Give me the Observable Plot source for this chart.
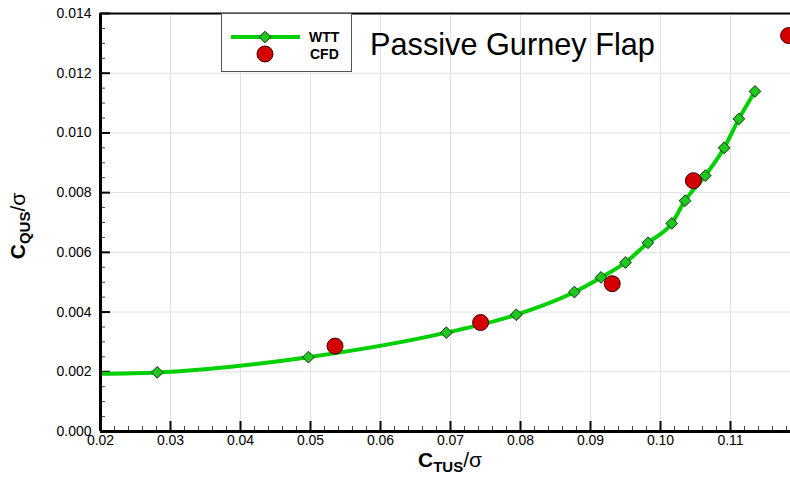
<!DOCTYPE html>
<html><head><meta charset="utf-8">
<script src="https://cdn.jsdelivr.net/npm/d3@7"></script>
<script src="https://cdn.jsdelivr.net/npm/@observablehq/plot@0.6"></script>
<style>
html,body{margin:0;padding:0;overflow:hidden;background:#fff;}
#chart{width:790px;height:479px;overflow:hidden;}
</style>
</head><body><div id="chart"></div>
<script>
// WTT measurements (first point lies just left of the plotted range)
const wttX = [0.0185, 0.0281, 0.0497, 0.0694, 0.0794, 0.0877, 0.0915, 0.0950, 0.0982, 0.1016, 0.1035, 0.1064, 0.1091, 0.1112, 0.1135];
const wttY = [0.00193, 0.00198, 0.00249, 0.00331, 0.00391, 0.00467, 0.00516, 0.00566, 0.00632, 0.00697, 0.00773, 0.00857, 0.00950, 0.01047, 0.01139];
// CFD results
const cfdX = [0.0535, 0.0743, 0.0931, 0.1047, 0.1183];
const cfdY = [0.00286, 0.00365, 0.00495, 0.00840, 0.01326];
// ticks
const xTicks = [0.02, 0.03, 0.04, 0.05, 0.06, 0.07, 0.08, 0.09, 0.10, 0.11];
const yTicks = [0, 0.002, 0.004, 0.006, 0.008, 0.010, 0.012, 0.014];
const xMinor = d3.range(0, 50).map(i => 0.02 + i * 0.002).filter(v => Math.abs(v * 100 - Math.round(v * 100)) > 1e-6 && v < 0.12);
const yMinor = d3.range(0, 29).map(i => i * 0.0005).filter(v => Math.abs(v * 500 - Math.round(v * 500)) > 1e-6);

const wtt = wttX.map((x, i) => ({x, y: wttY[i]}));
const cfd = cfdX.map((x, i) => ({x, y: cfdY[i]}));

const W = 790, H = 479, mL = 100, mT = 13, mB = 48;
const innerH = H - mT - mB, innerW = W - mL;

const plot = Plot.plot({
  width: W, height: H,
  marginLeft: mL, marginRight: 0, marginTop: mT, marginBottom: mB,
  style: {fontFamily: "'Liberation Sans', Arial, sans-serif", fontSize: "14px", color: "#000", background: "#fff"},
  x: {domain: [0.02, 0.12], range: [100, 800]},
  y: {domain: [0, 0.014]},
  marks: [
    Plot.gridX(xTicks, {stroke: "#e0e0e0", strokeOpacity: 1, strokeWidth: 1}),
    Plot.gridY(yTicks, {stroke: "#e0e0e0", strokeOpacity: 1, strokeWidth: 1}),
    Plot.tickX(xMinor, {x: d => d, insetTop: innerH - 5, stroke: "#444", strokeWidth: 1}),
    Plot.tickX(xTicks, {x: d => d, insetTop: innerH - 10, stroke: "#000", strokeWidth: 2}),
    Plot.tickY(yMinor, {y: d => d, insetRight: innerW - 5, stroke: "#444", strokeWidth: 1}),
    Plot.tickY(yTicks, {y: d => d, insetRight: innerW - 10, stroke: "#000", strokeWidth: 2}),
    Plot.axisX(xTicks, {tickSize: 0, tickPadding: 4, tickFormat: d3.format(".2f"), label: null, fontSize: 14, fill: "#000"}),
    Plot.axisY(yTicks, {tickSize: 0, tickPadding: 9, tickFormat: d3.format(".3f"), label: null, fontSize: 14, fill: "#000"}),
    Plot.ruleY([0.014], {stroke: "#000", strokeWidth: 2}),
    Plot.line(wtt, {x: "x", y: "y", stroke: "#00d000", strokeWidth: 4, curve: "monotone-x", clip: true}),
    Plot.dot(wtt, {x: "x", y: "y", symbol: "diamond2", r: 5.3, fill: "#1ec81e", stroke: "#000", strokeWidth: 0.8, clip: true}),
    Plot.dot(cfd, {x: "x", y: "y", r: 8, fill: "#d40000", stroke: "#400000", strokeWidth: 1}),
    Plot.ruleX([0.02], {stroke: "#000", strokeWidth: 3}),
    Plot.ruleY([0], {stroke: "#000", strokeWidth: 3})
  ]
});
document.getElementById("chart").appendChild(plot);

const svg = d3.select(plot);
const font = "'Liberation Sans', Arial, sans-serif";

// legend
const lg = svg.append("g").attr("text-anchor", "start");
lg.append("rect").attr("x", 221.5).attr("y", 13.5).attr("width", 130).attr("height", 58)
  .attr("fill", "#fff").attr("stroke", "#555").attr("stroke-width", 1);
lg.append("line").attr("x1", 231).attr("x2", 300).attr("y1", 37).attr("y2", 37)
  .attr("stroke", "#00d000").attr("stroke-width", 4);
lg.append("path").attr("d", "M265,31.2L270.8,37L265,42.8L259.2,37Z")
  .attr("fill", "#1ec81e").attr("stroke", "#000").attr("stroke-width", 0.8);
lg.append("circle").attr("cx", 265).attr("cy", 54).attr("r", 8)
  .attr("fill", "#d40000").attr("stroke", "#400000");
lg.append("text").attr("x", 309).attr("y", 37).attr("dy", "0.35em").attr("font-family", font)
  .attr("font-size", 14).attr("font-weight", "bold").attr("fill", "#000").text("WTT");
lg.append("text").attr("x", 310).attr("y", 54).attr("dy", "0.35em").attr("font-family", font)
  .attr("font-size", 14).attr("font-weight", "bold").attr("fill", "#000").text("CFD");

// title
svg.append("text").attr("x", 370).attr("y", 55).attr("text-anchor", "start").attr("font-family", font)
  .attr("font-size", 30.7).attr("fill", "#000").text("Passive Gurney Flap");

// axis titles
function axisTitle(g, sub) {
  const t = g.append("text").attr("text-anchor", "middle").attr("font-family", font).attr("fill", "#000");
  t.append("tspan").attr("font-size", 21).attr("font-weight", "bold").text("C");
  t.append("tspan").attr("font-size", 15).attr("font-weight", "bold").attr("dy", 5).text(sub);
  t.append("tspan").attr("font-size", 21).attr("dy", -5).text("/σ");
}
axisTitle(svg.append("g").attr("transform", "translate(450,467)"), "TUS");
axisTitle(svg.append("g").attr("transform", "translate(25,226) rotate(-90)"), "QUS");
</script>
</body></html>
